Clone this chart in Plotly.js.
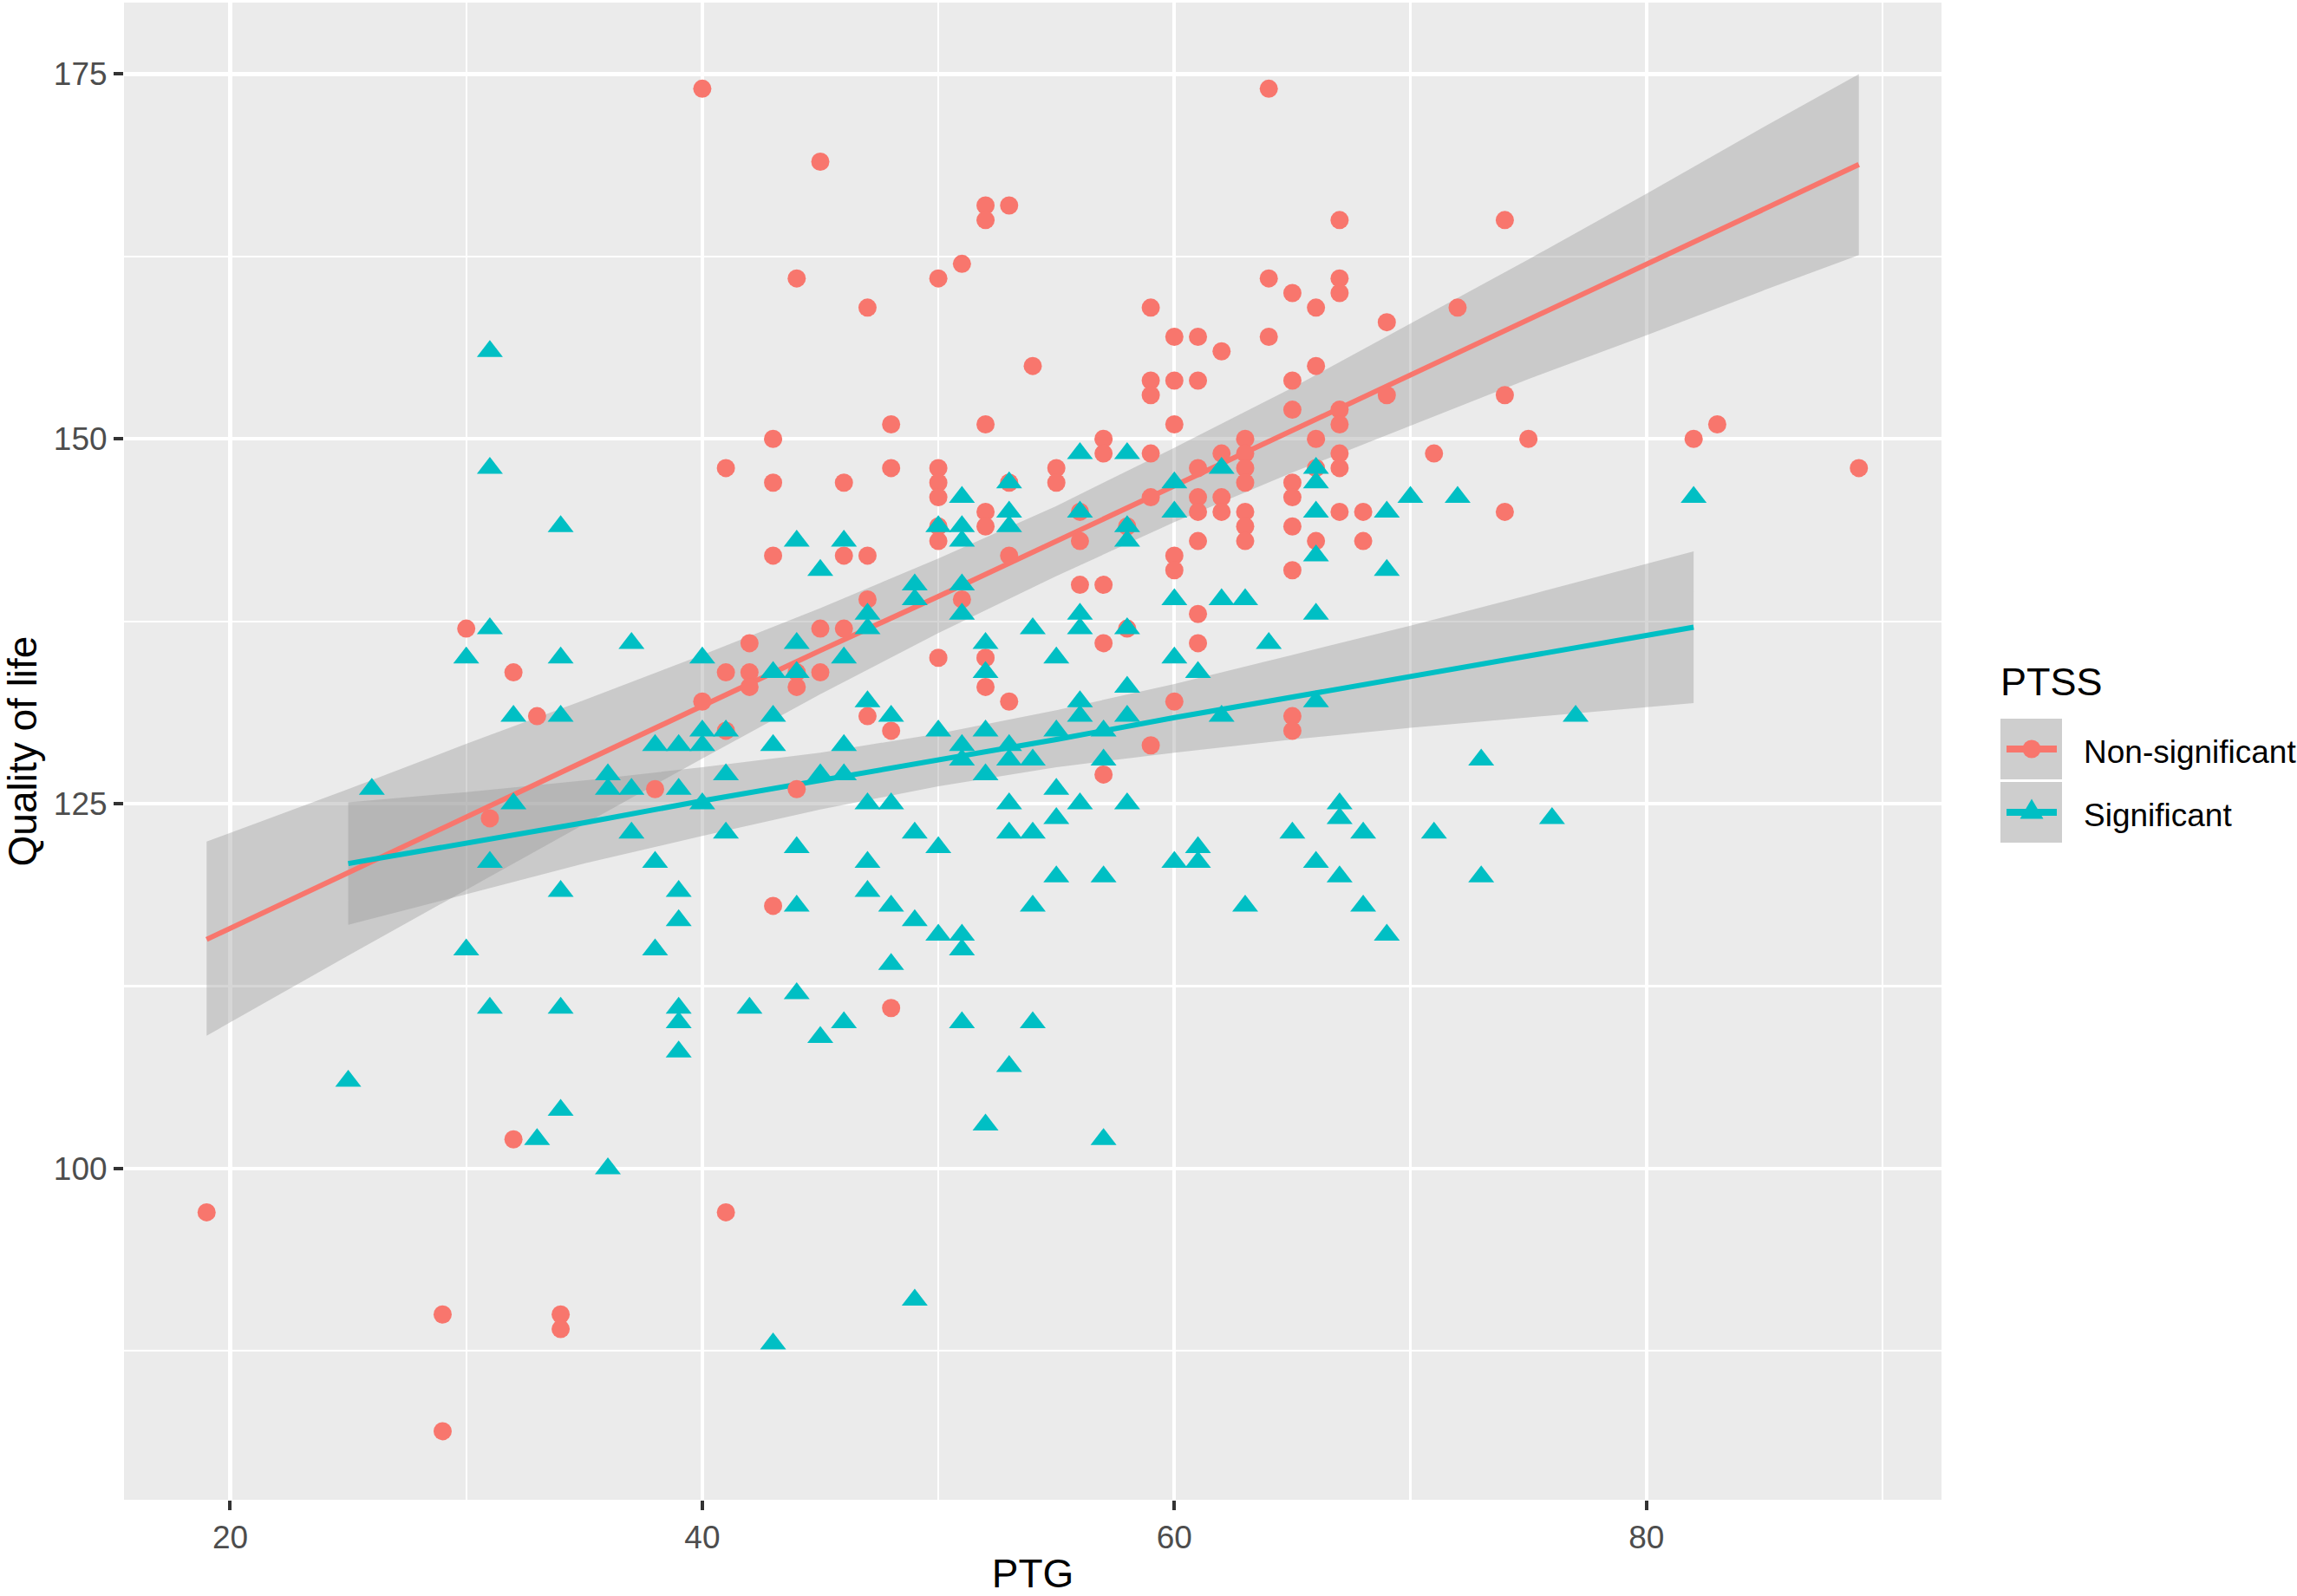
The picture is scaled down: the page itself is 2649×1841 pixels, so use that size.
<!DOCTYPE html>
<html>
<head>
<meta charset="utf-8">
<script src="https://cdn.plot.ly/plotly-3.0.1.min.js"></script>
<style>
  html, body { margin: 0; padding: 0; background: #ffffff; }
  #chart { width: 2649px; height: 1841px; }
</style>
</head>
<body>
<div id="chart"></div>
<script>
// PTSS = Non-significant (circles)
var nsPTG = [19, 29, 29, 30, 31, 32, 32, 33, 34, 34, 38, 40, 40,
  41, 41, 41, 41, 42, 42, 42, 43, 43, 43, 43, 44, 44, 44, 44,
  45, 45, 45, 46, 46, 46, 47, 47, 47, 47, 48, 48, 48, 48,
  50, 50, 50, 50, 50, 50, 50, 51, 51, 52, 52, 52, 52, 52, 52, 52,
  53, 53, 53, 53, 54, 55, 55, 56, 56, 56, 57, 57, 57, 57, 57, 58, 58,
  59, 59, 59, 59, 59, 59, 60, 60, 60, 60, 60, 60,
  61, 61, 61, 61, 61, 61, 61, 61, 62, 62, 62, 62,
  63, 63, 63, 63, 63, 63, 63, 64, 64, 64,
  65, 65, 65, 65, 65, 65, 65, 65, 65, 66, 66, 66, 66, 66,
  67, 67, 67, 67, 67, 67, 67, 67, 68, 68, 69, 69, 71, 72,
  74, 74, 74, 75, 82, 83, 89];
var nsQoL = [97, 90, 82, 137, 124, 134, 102, 131, 90, 89, 126, 174, 132,
  148, 134, 130, 97, 136, 134, 133, 150, 147, 142, 118, 161, 134, 133, 126,
  169, 137, 134, 147, 142, 137, 159, 142, 139, 131, 151, 148, 130, 111,
  161, 148, 147, 146, 144, 143, 135, 162, 139, 166, 165, 151, 145, 144, 135, 133,
  166, 147, 142, 132, 155, 148, 147, 145, 143, 140, 150, 149, 140, 136, 127, 144, 137,
  159, 154, 153, 149, 146, 129, 157, 154, 151, 142, 141, 132,
  157, 154, 148, 146, 145, 143, 138, 136, 156, 149, 146, 145,
  150, 149, 148, 147, 145, 144, 143, 174, 161, 157,
  160, 154, 152, 147, 146, 144, 141, 131, 130, 159, 155, 150, 148, 143,
  165, 161, 160, 152, 151, 149, 148, 145, 145, 143, 158, 153, 149, 159,
  165, 153, 145, 150, 150, 151, 148];

// PTSS = Significant (triangles)
var sigPTG = [25, 26, 30, 30, 31, 31, 31, 31, 31, 32, 32, 33,
  34, 34, 34, 34, 34, 34, 36, 36, 36, 37, 37, 37, 38, 38, 38,
  39, 39, 39, 39, 39, 39, 39, 40, 40, 40, 40, 41, 41, 41, 42,
  43, 43, 43, 43, 44, 44, 44, 44, 44, 44, 45, 45, 45,
  46, 46, 46, 46, 46, 47, 47, 47, 47, 47, 47, 48, 48, 48, 48,
  49, 49, 49, 49, 49, 50, 50, 50, 50,
  51, 51, 51, 51, 51, 51, 51, 51, 51, 51, 52, 52, 52, 52, 52,
  53, 53, 53, 53, 53, 53, 53, 53, 54, 54, 54, 54, 54,
  55, 55, 55, 55, 55, 56, 56, 56, 56, 56, 56, 56, 57, 57, 57, 57,
  58, 58, 58, 58, 58, 58, 58, 60, 60, 60, 60, 60, 61, 61, 61,
  62, 62, 62, 63, 63, 64, 65, 66, 66, 66, 66, 66, 66, 66,
  67, 67, 67, 68, 68, 69, 69, 69, 70, 71, 72, 73, 73, 76, 77, 82];
var sigQoL = [106, 126, 135, 115, 156, 148, 137, 121, 111, 131, 125, 102,
  144, 135, 131, 119, 111, 104, 127, 126, 100, 136, 126, 123, 129, 121, 115,
  129, 126, 119, 117, 111, 110, 108, 135, 130, 129, 125, 130, 127, 123, 111,
  134, 131, 129, 88, 143, 136, 134, 122, 118, 112, 141, 127, 109,
  143, 135, 129, 127, 110, 138, 137, 132, 125, 121, 119, 131, 125, 118, 114,
  140, 139, 123, 117, 91, 144, 130, 122, 116,
  146, 144, 143, 140, 138, 129, 128, 116, 115, 110, 136, 134, 130, 127, 103,
  147, 145, 144, 129, 128, 125, 123, 107, 137, 128, 123, 118, 110,
  135, 130, 126, 124, 120, 149, 145, 138, 137, 132, 131, 125, 130, 128, 120, 102,
  149, 144, 143, 137, 133, 131, 125, 147, 145, 139, 135, 121, 134, 122, 121,
  148, 139, 131, 139, 118, 136, 123, 148, 147, 145, 142, 138, 132, 121,
  125, 124, 120, 123, 118, 145, 141, 116, 146, 123, 146, 128, 120, 124, 131, 146];

// lm fits with 95% bands
var nsFitX = [19, 25, 30, 35, 40, 45, 50, 55, 60, 65, 70, 75, 80, 85, 89];
var nsFit = [115.7, 120.3, 124.1, 127.9, 131.7, 135.5, 139.2, 143.0, 146.8, 150.6, 154.4, 158.2, 162.0, 165.8, 168.8];
var nsUpper = [122.4, 126.0, 129.1, 132.1, 135.2, 138.4, 141.8, 145.4, 149.4, 153.5, 157.9, 162.3, 166.8, 171.4, 175.0];
var nsLower = [109.1, 114.6, 119.1, 123.6, 128.1, 132.5, 136.7, 140.6, 144.3, 147.7, 150.9, 154.1, 157.1, 160.2, 162.6];

var sigFitX = [25, 30, 35, 40, 45, 50, 55, 60, 65, 70, 75, 82];
var sigFit = [120.9, 122.3, 123.7, 125.2, 126.6, 128.0, 129.4, 130.9, 132.3, 133.7, 135.1, 137.1];
var sigUpper = [125.1, 125.8, 126.6, 127.5, 128.5, 129.8, 131.4, 133.2, 135.2, 137.2, 139.3, 142.3];
var sigLower = [116.7, 118.8, 120.9, 122.8, 124.6, 126.2, 127.5, 128.5, 129.4, 130.2, 130.9, 131.9];

var groupNames = ['Non-significant', 'Significant'];
var xTicks = [20, 40, 60, 80];
var yTicks = [100, 125, 150, 175];

var RED = '#F8766D';
var TEAL = '#00BFC4';
var BAND = 'rgba(153,153,153,0.4)';
var FONT = '"Liberation Sans", Arial, sans-serif';

// panel placement in page pixels
var W = 2649, H = 1841;
var panel = { left: 143, right: 2239, top: 3, bottom: 1730 };

function px2x(px) { return (px - panel.left) / (panel.right - panel.left); }
function px2y(py) { return (panel.bottom - py) / (panel.bottom - panel.top); }

function band(xs, lo, hi) {
    return [
        { x: xs, y: lo, mode: 'lines', line: { width: 0 }, hoverinfo: 'skip', showlegend: false },
        { x: xs, y: hi, mode: 'lines', line: { width: 0 }, fill: 'tonexty', fillcolor: BAND,
          hoverinfo: 'skip', showlegend: false }
    ];
}

function fitLine(xs, ys, color) {
    return { x: xs, y: ys, mode: 'lines', line: { color: color, width: 6 }, showlegend: false };
}

var data = [].concat(
    band(nsFitX, nsLower, nsUpper),
    band(sigFitX, sigLower, sigUpper),
    [
        fitLine(nsFitX, nsFit, RED),
        fitLine(sigFitX, sigFit, TEAL),
        {
            x: nsPTG, y: nsQoL, name: groupNames[0], mode: 'markers', type: 'scatter',
            marker: { color: RED, size: 21, symbol: 'circle' }, showlegend: false
        },
        {
            x: sigPTG, y: sigQoL, name: groupNames[1], mode: 'markers', type: 'scatter',
            marker: { color: TEAL, size: 26, symbol: 'triangle-up' }, showlegend: false
        }
    ]
);

// hand-made ggplot style legend in the right margin
var keyColors = [RED, TEAL];
var keyTop = [829, 902];
var keyH = 70;
var shapes = [];
var annotations = [];
keyTop.forEach(function (top, i) {
    var cy = top + keyH / 2;
    shapes.push({ type: 'rect', xref: 'paper', yref: 'paper',
        x0: px2x(2307), x1: px2x(2378), y0: px2y(top + keyH), y1: px2y(top),
        fillcolor: '#CECECE', line: { width: 0 } });
    shapes.push({ type: 'line', xref: 'paper', yref: 'paper',
        x0: px2x(2314), x1: px2x(2372), y0: px2y(cy), y1: px2y(cy),
        line: { color: keyColors[i], width: 8 } });
    if (i === 0) {
        shapes.push({ type: 'circle', xref: 'paper', yref: 'paper',
            x0: px2x(2343 - 10.5), x1: px2x(2343 + 10.5), y0: px2y(cy + 10.5), y1: px2y(cy - 10.5),
            fillcolor: keyColors[i], line: { width: 0 } });
    } else {
        shapes.push({ type: 'path', xref: 'paper', yref: 'paper',
            path: 'M' + px2x(2329.5) + ',' + px2y(cy + 7.5) +
                  ' L' + px2x(2356.5) + ',' + px2y(cy + 7.5) +
                  ' L' + px2x(2343) + ',' + px2y(cy - 15.5) + ' Z',
            fillcolor: keyColors[i], line: { width: 0 } });
    }
    annotations.push({ xref: 'paper', yref: 'paper', x: px2x(2401), y: px2y(cy + 3),
        xanchor: 'left', yanchor: 'middle', showarrow: false, text: groupNames[i],
        font: { family: FONT, size: 37, color: '#000000' } });
});
annotations.push({ xref: 'paper', yref: 'paper', x: px2x(2305), y: px2y(786),
    xanchor: 'left', yanchor: 'middle', showarrow: false, text: 'PTSS',
    font: { family: FONT, size: 45, color: '#000000' } });

var axisCommon = {
    showgrid: true, gridcolor: '#FFFFFF', gridwidth: 4.3,
    zeroline: false, showline: false,
    ticks: 'outside', ticklen: 11, tickwidth: 4, tickcolor: '#333333',
    tickfont: { family: FONT, size: 37, color: '#4D4D4D' }
};

var layout = {
    width: W, height: H,
    paper_bgcolor: '#FFFFFF', plot_bgcolor: '#EBEBEB',
    margin: { l: panel.left, r: W - panel.right, t: panel.top, b: H - panel.bottom, autoexpand: false },
    showlegend: false,
    xaxis: Object.assign({}, axisCommon, {
        range: [15.5, 92.5], tickmode: 'array', tickvals: xTicks,
        minor: { tick0: 10, dtick: 10, showgrid: true, gridcolor: '#FFFFFF', gridwidth: 2.3, ticks: '' },
        title: { text: 'PTG', standoff: 14, font: { family: FONT, size: 46, color: '#000000' } }
    }),
    yaxis: Object.assign({}, axisCommon, {
        range: [77.3, 179.9], tickmode: 'array', tickvals: yTicks,
        minor: { tick0: 87.5, dtick: 12.5, showgrid: true, gridcolor: '#FFFFFF', gridwidth: 2.3, ticks: '' },
        title: { text: 'Quality of life', standoff: 16, font: { family: FONT, size: 46, color: '#000000' } }
    }),
    shapes: shapes,
    annotations: annotations
};

Plotly.newPlot('chart', data, layout, { displayModeBar: false, staticPlot: true });
</script>
</body>
</html>
